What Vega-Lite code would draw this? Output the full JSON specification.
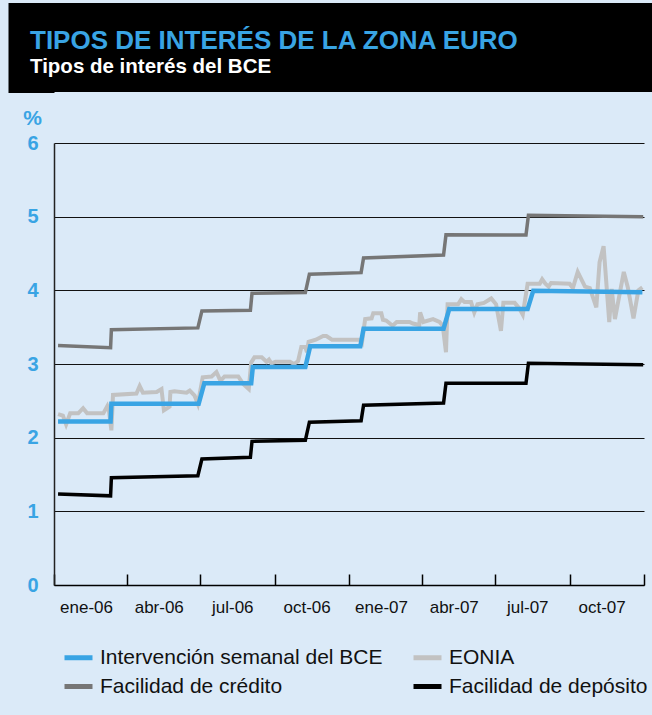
{
  "$schema": "https://vega.github.io/schema/vega-lite/v6.json",
  "background": "#dbeaf8",
  "padding": {"left": 8, "top": 3, "right": 0, "bottom": 60},
  "spacing": 15,
  "config": {"view": {"stroke": null}, "font": "Liberation Sans"},
  "vconcat": [
    {
      "width": 598,
      "height": 89,
      "view": {"fill": "#000000", "stroke": null},
      "title": {
        "text": "TIPOS DE INTERÉS DE LA ZONA EURO",
        "subtitle": "Tipos de interés del BCE",
        "anchor": "start",
        "frame": "group",
        "orient": "top",
        "offset": -74,
        "dx": -24,
        "font": "Liberation Sans",
        "fontSize": 26,
        "fontWeight": "bold",
        "color": "#39a4e4",
        "subtitleFont": "Liberation Sans",
        "subtitleFontSize": 20.5,
        "subtitleFontWeight": "bold",
        "subtitleColor": "#ffffff",
        "subtitlePadding": 3
      },
      "data": {"values": [{}]},
      "mark": {"type": "text", "text": ""},
      "encoding": {
        "y": {
          "datum": 0,
          "type": "quantitative",
          "scale": {"domain": [0, 1], "range": [66.5, 22.5]},
          "axis": {
            "title": null,
            "labels": false,
            "ticks": false,
            "grid": false,
            "domain": true,
            "domainColor": "#000000",
            "domainWidth": 46,
            "domainCap": "square",
            "offset": 23
          }
        }
      }
    },
    {
      "width": 590,
      "height": 442,
      "data": {
        "values": [
          {"serie": "EONIA", "fecha": "2006-01-06", "tipo": 2.32},
          {"serie": "EONIA", "fecha": "2006-01-12", "tipo": 2.30},
          {"serie": "EONIA", "fecha": "2006-01-16", "tipo": 2.18},
          {"serie": "EONIA", "fecha": "2006-01-21", "tipo": 2.33},
          {"serie": "EONIA", "fecha": "2006-01-31", "tipo": 2.33},
          {"serie": "EONIA", "fecha": "2006-02-06", "tipo": 2.40},
          {"serie": "EONIA", "fecha": "2006-02-11", "tipo": 2.33},
          {"serie": "EONIA", "fecha": "2006-03-03", "tipo": 2.33},
          {"serie": "EONIA", "fecha": "2006-03-08", "tipo": 2.43},
          {"serie": "EONIA", "fecha": "2006-03-10", "tipo": 2.37},
          {"serie": "EONIA", "fecha": "2006-03-13", "tipo": 2.10},
          {"serie": "EONIA", "fecha": "2006-03-15", "tipo": 2.58},
          {"serie": "EONIA", "fecha": "2006-04-13", "tipo": 2.60},
          {"serie": "EONIA", "fecha": "2006-04-17", "tipo": 2.70},
          {"serie": "EONIA", "fecha": "2006-04-21", "tipo": 2.61},
          {"serie": "EONIA", "fecha": "2006-05-08", "tipo": 2.62},
          {"serie": "EONIA", "fecha": "2006-05-14", "tipo": 2.66},
          {"serie": "EONIA", "fecha": "2006-05-17", "tipo": 2.37},
          {"serie": "EONIA", "fecha": "2006-05-24", "tipo": 2.42},
          {"serie": "EONIA", "fecha": "2006-05-25", "tipo": 2.62},
          {"serie": "EONIA", "fecha": "2006-05-30", "tipo": 2.63},
          {"serie": "EONIA", "fecha": "2006-06-14", "tipo": 2.61},
          {"serie": "EONIA", "fecha": "2006-06-18", "tipo": 2.64},
          {"serie": "EONIA", "fecha": "2006-06-24", "tipo": 2.57},
          {"serie": "EONIA", "fecha": "2006-06-28", "tipo": 2.46},
          {"serie": "EONIA", "fecha": "2006-07-04", "tipo": 2.82},
          {"serie": "EONIA", "fecha": "2006-07-15", "tipo": 2.83},
          {"serie": "EONIA", "fecha": "2006-07-21", "tipo": 2.89},
          {"serie": "EONIA", "fecha": "2006-07-26", "tipo": 2.77},
          {"serie": "EONIA", "fecha": "2006-07-31", "tipo": 2.83},
          {"serie": "EONIA", "fecha": "2006-08-17", "tipo": 2.83},
          {"serie": "EONIA", "fecha": "2006-08-23", "tipo": 2.73},
          {"serie": "EONIA", "fecha": "2006-08-30", "tipo": 2.66},
          {"serie": "EONIA", "fecha": "2006-09-02", "tipo": 3.02},
          {"serie": "EONIA", "fecha": "2006-09-06", "tipo": 3.09},
          {"serie": "EONIA", "fecha": "2006-09-15", "tipo": 3.09},
          {"serie": "EONIA", "fecha": "2006-09-21", "tipo": 3.03},
          {"serie": "EONIA", "fecha": "2006-09-24", "tipo": 3.06},
          {"serie": "EONIA", "fecha": "2006-09-27", "tipo": 3.01},
          {"serie": "EONIA", "fecha": "2006-10-02", "tipo": 3.03},
          {"serie": "EONIA", "fecha": "2006-10-20", "tipo": 3.03},
          {"serie": "EONIA", "fecha": "2006-10-25", "tipo": 3.00},
          {"serie": "EONIA", "fecha": "2006-10-30", "tipo": 3.04},
          {"serie": "EONIA", "fecha": "2006-11-03", "tipo": 3.23},
          {"serie": "EONIA", "fecha": "2006-11-08", "tipo": 3.23},
          {"serie": "EONIA", "fecha": "2006-11-10", "tipo": 3.16},
          {"serie": "EONIA", "fecha": "2006-11-12", "tipo": 3.30},
          {"serie": "EONIA", "fecha": "2006-11-21", "tipo": 3.33},
          {"serie": "EONIA", "fecha": "2006-11-30", "tipo": 3.38},
          {"serie": "EONIA", "fecha": "2006-12-04", "tipo": 3.38},
          {"serie": "EONIA", "fecha": "2006-12-11", "tipo": 3.33},
          {"serie": "EONIA", "fecha": "2007-01-14", "tipo": 3.33},
          {"serie": "EONIA", "fecha": "2007-01-17", "tipo": 3.29},
          {"serie": "EONIA", "fecha": "2007-01-21", "tipo": 3.61},
          {"serie": "EONIA", "fecha": "2007-01-29", "tipo": 3.62},
          {"serie": "EONIA", "fecha": "2007-01-31", "tipo": 3.69},
          {"serie": "EONIA", "fecha": "2007-02-10", "tipo": 3.69},
          {"serie": "EONIA", "fecha": "2007-02-12", "tipo": 3.60},
          {"serie": "EONIA", "fecha": "2007-02-16", "tipo": 3.59},
          {"serie": "EONIA", "fecha": "2007-02-24", "tipo": 3.52},
          {"serie": "EONIA", "fecha": "2007-03-01", "tipo": 3.57},
          {"serie": "EONIA", "fecha": "2007-03-17", "tipo": 3.57},
          {"serie": "EONIA", "fecha": "2007-03-21", "tipo": 3.55},
          {"serie": "EONIA", "fecha": "2007-03-29", "tipo": 3.53},
          {"serie": "EONIA", "fecha": "2007-03-30", "tipo": 3.70},
          {"serie": "EONIA", "fecha": "2007-04-03", "tipo": 3.57},
          {"serie": "EONIA", "fecha": "2007-04-15", "tipo": 3.61},
          {"serie": "EONIA", "fecha": "2007-04-23", "tipo": 3.57},
          {"serie": "EONIA", "fecha": "2007-04-27", "tipo": 3.52},
          {"serie": "EONIA", "fecha": "2007-05-01", "tipo": 3.16},
          {"serie": "EONIA", "fecha": "2007-05-03", "tipo": 3.81},
          {"serie": "EONIA", "fecha": "2007-05-16", "tipo": 3.81},
          {"serie": "EONIA", "fecha": "2007-05-20", "tipo": 3.88},
          {"serie": "EONIA", "fecha": "2007-05-24", "tipo": 3.84},
          {"serie": "EONIA", "fecha": "2007-06-01", "tipo": 3.84},
          {"serie": "EONIA", "fecha": "2007-06-05", "tipo": 3.70},
          {"serie": "EONIA", "fecha": "2007-06-09", "tipo": 3.81},
          {"serie": "EONIA", "fecha": "2007-06-17", "tipo": 3.83},
          {"serie": "EONIA", "fecha": "2007-06-26", "tipo": 3.89},
          {"serie": "EONIA", "fecha": "2007-07-02", "tipo": 3.81},
          {"serie": "EONIA", "fecha": "2007-07-08", "tipo": 3.45},
          {"serie": "EONIA", "fecha": "2007-07-11", "tipo": 3.83},
          {"serie": "EONIA", "fecha": "2007-07-25", "tipo": 3.83},
          {"serie": "EONIA", "fecha": "2007-07-31", "tipo": 3.75},
          {"serie": "EONIA", "fecha": "2007-08-04", "tipo": 3.67},
          {"serie": "EONIA", "fecha": "2007-08-10", "tipo": 4.09},
          {"serie": "EONIA", "fecha": "2007-08-25", "tipo": 4.09},
          {"serie": "EONIA", "fecha": "2007-08-28", "tipo": 4.15},
          {"serie": "EONIA", "fecha": "2007-09-01", "tipo": 4.09},
          {"serie": "EONIA", "fecha": "2007-09-05", "tipo": 4.05},
          {"serie": "EONIA", "fecha": "2007-09-08", "tipo": 4.10},
          {"serie": "EONIA", "fecha": "2007-10-01", "tipo": 4.09},
          {"serie": "EONIA", "fecha": "2007-10-05", "tipo": 4.03},
          {"serie": "EONIA", "fecha": "2007-10-11", "tipo": 4.25},
          {"serie": "EONIA", "fecha": "2007-10-20", "tipo": 4.05},
          {"serie": "EONIA", "fecha": "2007-10-26", "tipo": 4.03},
          {"serie": "EONIA", "fecha": "2007-11-03", "tipo": 3.77},
          {"serie": "EONIA", "fecha": "2007-11-07", "tipo": 4.38},
          {"serie": "EONIA", "fecha": "2007-11-12", "tipo": 4.60},
          {"serie": "EONIA", "fecha": "2007-11-19", "tipo": 3.57},
          {"serie": "EONIA", "fecha": "2007-11-22", "tipo": 4.02},
          {"serie": "EONIA", "fecha": "2007-11-26", "tipo": 3.61},
          {"serie": "EONIA", "fecha": "2007-12-07", "tipo": 4.25},
          {"serie": "EONIA", "fecha": "2007-12-12", "tipo": 4.04},
          {"serie": "EONIA", "fecha": "2007-12-19", "tipo": 3.62},
          {"serie": "EONIA", "fecha": "2007-12-25", "tipo": 4.00},
          {"serie": "EONIA", "fecha": "2007-12-30", "tipo": 4.04},

          {"serie": "Facilidad de crédito", "fecha": "2006-01-06", "tipo": 3.25},
          {"serie": "Facilidad de crédito", "fecha": "2006-03-12", "tipo": 3.22},
          {"serie": "Facilidad de crédito", "fecha": "2006-03-13", "tipo": 3.466},
          {"serie": "Facilidad de crédito", "fecha": "2006-06-28", "tipo": 3.49},
          {"serie": "Facilidad de crédito", "fecha": "2006-07-03", "tipo": 3.72},
          {"serie": "Facilidad de crédito", "fecha": "2006-09-01", "tipo": 3.73},
          {"serie": "Facilidad de crédito", "fecha": "2006-09-03", "tipo": 3.96},
          {"serie": "Facilidad de crédito", "fecha": "2006-11-08", "tipo": 3.97},
          {"serie": "Facilidad de crédito", "fecha": "2006-11-13", "tipo": 4.22},
          {"serie": "Facilidad de crédito", "fecha": "2007-01-16", "tipo": 4.24},
          {"serie": "Facilidad de crédito", "fecha": "2007-01-19", "tipo": 4.44},
          {"serie": "Facilidad de crédito", "fecha": "2007-04-28", "tipo": 4.48},
          {"serie": "Facilidad de crédito", "fecha": "2007-05-01", "tipo": 4.755},
          {"serie": "Facilidad de crédito", "fecha": "2007-08-08", "tipo": 4.75},
          {"serie": "Facilidad de crédito", "fecha": "2007-08-11", "tipo": 5.02},
          {"serie": "Facilidad de crédito", "fecha": "2007-12-31", "tipo": 5.00},

          {"serie": "Facilidad de depósito", "fecha": "2006-01-06", "tipo": 1.235},
          {"serie": "Facilidad de depósito", "fecha": "2006-03-12", "tipo": 1.21},
          {"serie": "Facilidad de depósito", "fecha": "2006-03-13", "tipo": 1.457},
          {"serie": "Facilidad de depósito", "fecha": "2006-06-28", "tipo": 1.484},
          {"serie": "Facilidad de depósito", "fecha": "2006-07-03", "tipo": 1.71},
          {"serie": "Facilidad de depósito", "fecha": "2006-09-01", "tipo": 1.733},
          {"serie": "Facilidad de depósito", "fecha": "2006-09-03", "tipo": 1.95},
          {"serie": "Facilidad de depósito", "fecha": "2006-11-08", "tipo": 1.964},
          {"serie": "Facilidad de depósito", "fecha": "2006-11-13", "tipo": 2.21},
          {"serie": "Facilidad de depósito", "fecha": "2007-01-16", "tipo": 2.23},
          {"serie": "Facilidad de depósito", "fecha": "2007-01-19", "tipo": 2.44},
          {"serie": "Facilidad de depósito", "fecha": "2007-04-28", "tipo": 2.47},
          {"serie": "Facilidad de depósito", "fecha": "2007-05-01", "tipo": 2.74},
          {"serie": "Facilidad de depósito", "fecha": "2007-08-08", "tipo": 2.74},
          {"serie": "Facilidad de depósito", "fecha": "2007-08-11", "tipo": 3.01},
          {"serie": "Facilidad de depósito", "fecha": "2007-12-31", "tipo": 2.99},

          {"serie": "Intervención semanal del BCE", "fecha": "2006-01-06", "tipo": 2.22},
          {"serie": "Intervención semanal del BCE", "fecha": "2006-03-12", "tipo": 2.22},
          {"serie": "Intervención semanal del BCE", "fecha": "2006-03-13", "tipo": 2.46},
          {"serie": "Intervención semanal del BCE", "fecha": "2006-06-29", "tipo": 2.46},
          {"serie": "Intervención semanal del BCE", "fecha": "2006-07-06", "tipo": 2.74},
          {"serie": "Intervención semanal del BCE", "fecha": "2006-09-02", "tipo": 2.74},
          {"serie": "Intervención semanal del BCE", "fecha": "2006-09-04", "tipo": 2.96},
          {"serie": "Intervención semanal del BCE", "fecha": "2006-11-08", "tipo": 2.96},
          {"serie": "Intervención semanal del BCE", "fecha": "2006-11-14", "tipo": 3.24},
          {"serie": "Intervención semanal del BCE", "fecha": "2007-01-15", "tipo": 3.24},
          {"serie": "Intervención semanal del BCE", "fecha": "2007-01-19", "tipo": 3.48},
          {"serie": "Intervención semanal del BCE", "fecha": "2007-04-28", "tipo": 3.48},
          {"serie": "Intervención semanal del BCE", "fecha": "2007-05-05", "tipo": 3.745},
          {"serie": "Intervención semanal del BCE", "fecha": "2007-08-10", "tipo": 3.745},
          {"serie": "Intervención semanal del BCE", "fecha": "2007-08-17", "tipo": 3.995},
          {"serie": "Intervención semanal del BCE", "fecha": "2007-12-30", "tipo": 3.975}
        ]
      },
      "encoding": {
        "x": {
          "field": "fecha",
          "type": "temporal",
          "scale": {
            "type": "utc",
            "nice": false,
            "domain": [
              {"year": 2006, "month": 1, "date": 1, "utc": true},
              {"year": 2008, "month": 1, "date": 1, "utc": true}
            ]
          },
          "axis": {
            "title": null,
            "grid": false,
            "values": [
              {"year": 2006, "month": 1, "date": 1, "utc": true},
              {"year": 2006, "month": 4, "date": 1, "utc": true},
              {"year": 2006, "month": 7, "date": 1, "utc": true},
              {"year": 2006, "month": 10, "date": 1, "utc": true},
              {"year": 2007, "month": 1, "date": 1, "utc": true},
              {"year": 2007, "month": 4, "date": 1, "utc": true},
              {"year": 2007, "month": 7, "date": 1, "utc": true},
              {"year": 2007, "month": 10, "date": 1, "utc": true},
              {"year": 2008, "month": 1, "date": 1, "utc": true}
            ],
            "labelExpr": "utcyear(datum.value) >= 2008 ? '' : ['ene','feb','mar','abr','may','jun','jul','ago','sep','oct','nov','dic'][utcmonth(datum.value)] + '-' + utcFormat(datum.value, '%y')",
            "tickSize": -11,
            "tickWidth": 1.5,
            "tickColor": "#000000",
            "domainColor": "#000000",
            "domainWidth": 1.5,
            "labelFont": "Liberation Sans",
            "labelFontSize": 17,
            "labelColor": "#111111",
            "labelOffset": 32,
            "labelPadding": 25,
            "labelFlush": false,
            "labelOverlap": false
          }
        },
        "y": {
          "field": "tipo",
          "type": "quantitative",
          "scale": {"domain": [0, 6], "nice": false, "zero": true},
          "axis": {
            "values": [0, 1, 2, 3, 4, 5, 6],
            "title": "%",
            "titleAngle": 0,
            "titleX": -22,
            "titleY": -19,
            "titleAlign": "center",
            "titleBaseline": "alphabetic",
            "titleFont": "Liberation Sans",
            "titleFontSize": 21,
            "titleFontWeight": "bold",
            "titleColor": "#39a4e4",
            "labelFont": "Liberation Sans",
            "labelFontSize": 20,
            "labelFontWeight": "bold",
            "labelColor": "#39a4e4",
            "labelPadding": 16,
            "ticks": false,
            "tickSize": 0,
            "domainColor": "#222222",
            "domainWidth": 1.5,
            "grid": true,
            "gridColor": "#111111",
            "gridWidth": 1,
            "gridOpacity": 1,
            "minExtent": 46,
            "maxExtent": 46
          }
        },
        "color": {
          "field": "serie",
          "type": "nominal",
          "scale": {
            "domain": ["Intervención semanal del BCE", "Facilidad de crédito", "EONIA", "Facilidad de depósito"],
            "range": ["#39a4e4", "#767676", "#c2c2c2", "#000000"]
          },
          "legend": {
            "title": null,
            "orient": "bottom",
            "direction": "vertical",
            "offset": 18,
            "padding": 8,
            "columns": 2,
            "columnPadding": 20,
            "rowPadding": 2,
            "symbolType": "stroke",
            "symbolSize": 784,
            "symbolStrokeWidth": 5,
            "symbolOpacity": 1,
            "labelFont": "Liberation Sans",
            "labelFontSize": 21,
            "labelColor": "#111111",
            "labelOffset": 5,
            "labelLimit": 400
          }
        }
      },
      "layer": [
        {
          "transform": [{"filter": "datum.serie === 'EONIA'"}],
          "mark": {"type": "line", "strokeWidth": 4}
        },
        {
          "transform": [{"filter": "datum.serie === 'Facilidad de crédito'"}],
          "mark": {"type": "line", "strokeWidth": 3.5}
        },
        {
          "transform": [{"filter": "datum.serie === 'Facilidad de depósito'"}],
          "mark": {"type": "line", "strokeWidth": 3.5}
        },
        {
          "transform": [{"filter": "datum.serie === 'Intervención semanal del BCE'"}],
          "mark": {"type": "line", "strokeWidth": 4.5}
        }
      ]
    }
  ]
}
